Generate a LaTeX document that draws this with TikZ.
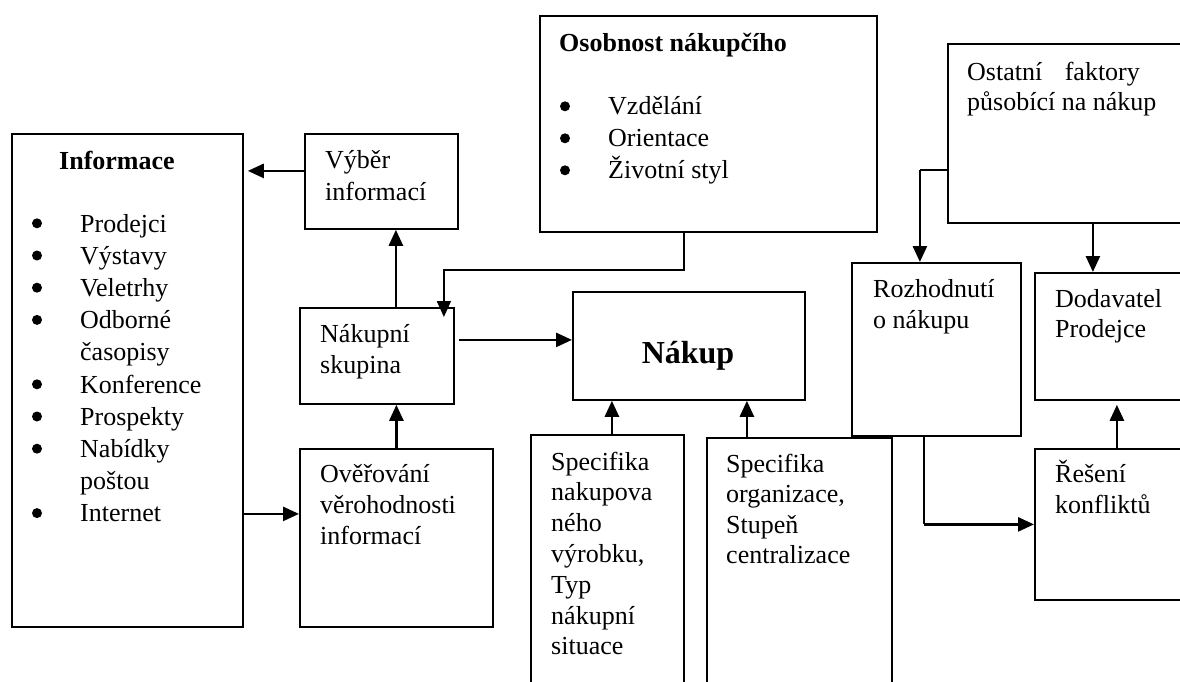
\documentclass[tikz,border=0pt]{standalone}
\usepackage{fontspec}
\setmainfont{Liberation Serif}
\usetikzlibrary{arrows.meta}
\newcommand{\tl}[1]{\vtop{\lineskiplimit=-50pt\halign{##\hfil\cr#1\crcr}}}
\begin{document}
\begin{tikzpicture}[x=1pt,y=-1pt,
  box/.style={draw, line width=1.8pt, inner sep=0pt, anchor=north west},
  txt/.style={inner sep=0pt, anchor=base west, font=\fontsize{26}{31}\selectfont},
  head/.style={inner sep=0pt, anchor=base west, font=\fontsize{26}{31}\selectfont\bfseries},
  dot/.style={fill=black},
  tip/.style={-{Triangle[length=16pt,width=14pt]}},
  arr/.style={line width=2.6pt, tip},
  thinl/.style={line width=1.7pt}]
\useasboundingbox (0,0) rectangle (1180,682);
\clip (0,0) rectangle (1180,682);

% boxes
\node[box,minimum width=231pt,minimum height=493pt] (inf) at (11,133) {};
\node[box,minimum width=153pt,minimum height=95pt] (vyb) at (304,133) {};
\node[box,minimum width=337pt,minimum height=216pt] (oso) at (539,15) {};
\node[box,minimum width=260pt,minimum height=179pt] (ost) at (947,43) {};
\node[box,minimum width=154pt,minimum height=96pt] (nsk) at (299,307) {};
\node[box,minimum width=232pt,minimum height=108pt] (nak) at (572,291) {};
\node[box,minimum width=169pt,minimum height=173pt] (roz) at (851,262) {};
\node[box,minimum width=260pt,minimum height=127pt] (dod) at (1034,272) {};
\node[box,minimum width=193pt,minimum height=178pt] (ove) at (299,448) {};
\node[box,minimum width=153pt,minimum height=300pt] (spn) at (530,434) {};
\node[box,minimum width=185pt,minimum height=300pt] (spo) at (706,437) {};
\node[box,minimum width=260pt,minimum height=151pt] (res) at (1034,448) {};

% bullets
\foreach \k in {0,1,2,3,5,6,7,9} \fill[dot] (37,{232+32.2*\k-8.7}) circle (5pt);
\foreach \k in {0,1,2} \fill[dot] (565,{115+32*\k-8.7}) circle (5pt);

% texts
\node[head] (tinfh) at (59,169) {Informace};
\node[txt,font=\fontsize{26}{32.2}\selectfont] (tinf) at (80,232) {\tl{Prodejci\cr Výstavy\cr Veletrhy\cr Odborné\cr časopisy\cr Konference\cr Prospekty\cr Nabídky\cr poštou\cr Internet}};
\node[txt,font=\fontsize{26}{32}\selectfont] (tvyb) at (325,168) {\tl{Výběr\cr informací}};
\node[head] (tosoh) at (559,52) {Osobnost nákupčího};
\node[txt,font=\fontsize{26}{32}\selectfont] (toso) at (608,115) {\tl{Vzdělání\cr Orientace\cr Životní styl}};
\node[txt,font=\fontsize{26}{30}\selectfont] (tost) at (967,81) {\tl{Ostatní\hspace{16pt} faktory\cr působící na nákup}};
\node[txt,font=\fontsize{26}{31}\selectfont] (tnsk) at (320,342) {\tl{Nákupní\cr skupina}};
\node[inner sep=0pt, anchor=base, font=\fontsize{32}{38}\selectfont\bfseries] (tnak) at (688,363) {Nákup};
\node[txt] (troz) at (873,297) {\tl{Rozhodnutí\cr o nákupu}};
\node[txt,font=\fontsize{26}{30}\selectfont] (tdod) at (1055,307) {\tl{Dodavatel\cr Prodejce}};
\node[txt] (tove) at (320,482) {\tl{Ověřování\cr věrohodnosti\cr informací}};
\node[txt,font=\fontsize{26}{30.8}\selectfont] (tspn) at (551,470) {\tl{Specifika\cr nakupova\cr ného\cr výrobku,\cr Typ\cr nákupní\cr situace}};
\node[txt,font=\fontsize{26}{30.5}\selectfont] (tspo) at (726,472) {\tl{Specifika\cr organizace,\cr Stupeň\cr centralizace}};
\node[txt] (tres) at (1055,482) {\tl{Řešení\cr konfliktů}};

% connectors
\draw[arr, shorten >=4pt] ([yshift=10.5pt]vyb.west) coordinate (a1) -- (a1 -| inf.east);
\draw[arr] ([xshift=19pt]nsk.north) coordinate (a2) -- (a2 |- vyb.south);
\draw[arr] (ove.north) -- (ove.north |- nsk.south);
\draw[arr] ([yshift=-133.5pt]inf.east) coordinate (a4) -- (a4 -| ove.west);
\draw[arr, shorten <=4pt] ([yshift=16pt]nsk.east) coordinate (a5) -- (a5 -| nak.west);
\draw[thinl, tip, shorten >=-10pt] ([xshift=-24.5pt]oso.south) -- ++(0,37) -| ([xshift=67pt]nsk.north);
\draw[arr] ([xshift=4.5pt]spn.north) coordinate (a7) -- (a7 |- nak.south);
\draw[arr] ([xshift=-52.5pt]spo.north) coordinate (a8) -- (a8 |- nak.south);
\path ([yshift=-36.5pt]ost.west) coordinate (o1) ([xshift=-16.5pt]roz.north) coordinate (o2);
\draw[thinl] (o1) -- (o1 -| o2) coordinate (k1);
\draw[arr] (k1) -- (o2);
\draw[arr] ([xshift=15pt]ost.south) coordinate (a10) -- (a10 |- dod.north);
\path ([xshift=-12.5pt]roz.south) coordinate (r1);
\draw[thinl] (r1) -- (r1 |- res.west) coordinate (k2);
\draw[arr] (k2) -- (res.west);
\draw[arr, shorten >=4pt] ([xshift=-48pt]res.north) coordinate (a12) -- (a12 |- dod.south);
\end{tikzpicture}
\end{document}
